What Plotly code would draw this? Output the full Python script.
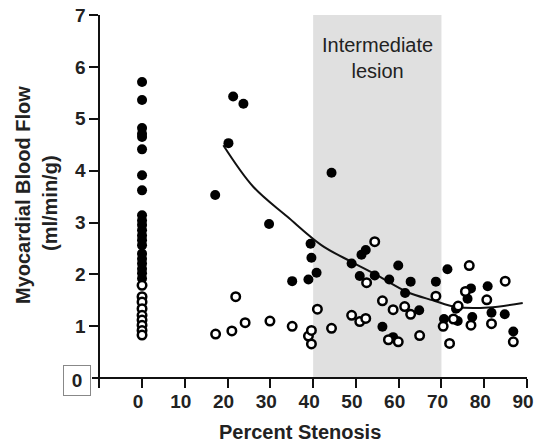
import plotly.graph_objects as go

# Myocardial blood flow vs. percent stenosis
# filled markers: one group, open markers: other group
filled_x = [0] * 21 + [
    17.1, 20.2, 21.3, 23.7, 29.7, 35.1, 38.9, 39.4, 39.6, 40.8, 44.3, 49.0,
    50.9, 51.3, 52.3, 54.4, 56.2, 57.8, 58.7, 59.9, 61.5, 62.8, 64.8, 68.7,
    70.6, 71.4, 73.4, 73.8, 76.1, 76.9, 77.2, 80.8, 81.7, 84.8, 86.8]
filled_y = [
    5.71, 5.36, 4.82, 4.71, 4.65, 4.41, 3.91, 3.62, 3.14, 3.04, 2.95, 2.85,
    2.75, 2.66, 2.56, 2.40, 2.30, 2.21, 2.11, 2.02, 1.92] + [
    3.53, 4.53, 5.43, 5.29, 2.97, 1.87, 1.90, 2.59, 2.32, 2.03, 3.96, 2.21,
    1.97, 2.38, 2.47, 1.98, 0.99, 1.90, 0.79, 2.17, 1.64, 1.86, 1.31, 1.86,
    1.14, 2.10, 1.34, 1.10, 1.53, 1.73, 1.18, 1.77, 1.26, 1.23, 0.90]

open_x = [0] * 9 + [
    17.2, 21.0, 21.9, 24.1, 29.9, 35.1, 38.9, 39.6, 39.6, 41.0, 44.3, 49.0,
    50.9, 52.3, 52.5, 54.4, 56.2, 57.6, 58.7, 59.9, 61.4, 62.8, 64.9, 68.7,
    70.4, 71.9, 72.8, 73.9, 75.6, 76.5, 76.9, 80.6, 81.7, 84.9, 86.8]
open_y = [1.79, 1.57, 1.47, 1.34, 1.21, 1.12, 1.02, 0.92, 0.83] + [
    0.85, 0.91, 1.57, 1.07, 1.10, 1.00, 0.81, 0.92, 0.66, 1.33, 0.96, 1.21,
    1.09, 1.15, 1.84, 2.63, 1.49, 0.74, 1.32, 0.70, 1.38, 1.23, 0.82, 1.58,
    1.00, 0.67, 1.14, 1.39, 1.67, 2.17, 1.02, 1.51, 1.05, 1.87, 0.70]

# fitted trend line
fit_x = [19, 26, 34, 42, 49, 55, 62, 68, 73.5, 81, 89]
fit_y = [4.49, 3.69, 3.11, 2.56, 2.24, 1.98, 1.66, 1.50, 1.37, 1.36, 1.45]

x_ticks = [0, 10, 20, 30, 40, 50, 60, 70, 80, 90]
y_ticks = [1, 2, 3, 4, 5, 6, 7]
lesion_band = [40, 70]

FONT = "Arial, Liberation Sans, Helvetica, sans-serif"
X_MIN, X_MAX = -11.7, 90
Y_MIN, Y_MAX = -0.19, 7
Y_AXIS_AT = -10

# plot-area geometry in pixels
L, R, T, B = 92, 10, 15, 54
W, H = 537, 442
PW, PH = W - L - R, H - T - B


def px_to_paper(px, py):
    return (px - L) / PW, (H - B - py) / PH


fig = go.Figure()

fig.add_shape(type="rect", xref="x", yref="y",
              x0=lesion_band[0], x1=lesion_band[1], y0=0, y1=Y_MAX,
              fillcolor="#e0e0e0", line=dict(width=0), layer="below")

fig.add_trace(go.Scatter(
    x=fit_x, y=fit_y, mode="lines", line=dict(color="#111", width=2, shape="spline"),
    hoverinfo="skip", showlegend=False))

fig.add_trace(go.Scatter(
    x=filled_x, y=filled_y, mode="markers", showlegend=False, cliponaxis=False,
    marker=dict(size=10, color="#000", line=dict(width=0))))

fig.add_trace(go.Scatter(
    x=open_x, y=open_y, mode="markers", showlegend=False, cliponaxis=False,
    marker=dict(size=8.5, color="#fff", line=dict(width=2.5, color="#000"))))

fig.add_annotation(x=sum(lesion_band) / 2, y=6.17, xref="x", yref="y",
                   xanchor="center", yanchor="middle",
                   text="Intermediate<br>lesion", showarrow=False,
                   font=dict(family=FONT, size=20, color="#222"))

# axis titles
ax, ay = px_to_paper(300, 432)
fig.add_annotation(x=ax, y=ay, xref="paper", yref="paper", xanchor="center", yanchor="middle",
                   text="<b>Percent Stenosis</b>", showarrow=False,
                   font=dict(family=FONT, size=20, color="#222"))
ax, ay = px_to_paper(23, 195)
fig.add_annotation(x=ax, y=ay, xref="paper", yref="paper", xanchor="center", yanchor="middle",
                   text="<b>Myocardial Blood Flow</b>", showarrow=False, textangle=-90,
                   font=dict(family=FONT, size=20, color="#222"))
ax, ay = px_to_paper(50, 203)
fig.add_annotation(x=ax, y=ay, xref="paper", yref="paper", xanchor="center", yanchor="middle",
                   text="<b>(ml/min/g)</b>", showarrow=False, textangle=-90,
                   font=dict(family=FONT, size=20, color="#222"))

# boxed zero label on the value axis
ax, ay = px_to_paper(77, 380)
fig.add_annotation(x=ax, y=ay, xref="paper", yref="paper", xanchor="center", yanchor="middle",
                   text="<b>0</b>", showarrow=False, width=24, height=27,
                   bordercolor="#888", borderwidth=1, borderpad=1, bgcolor="#fff",
                   font=dict(family=FONT, size=19, color="#222"))

axis_common = dict(showgrid=False, zeroline=False, showline=True, linecolor="#111",
                   linewidth=2, ticks="outside", ticklen=9, tickwidth=2, tickcolor="#111",
                   automargin=False,
                   tickfont=dict(family=FONT, size=19, color="#222"))

fig.update_xaxes(range=[X_MIN, X_MAX], tickvals=x_ticks, ticktext=[f"<b>{v}</b>" for v in x_ticks],
                 anchor="free", position=(0 - Y_MIN) / (Y_MAX - Y_MIN),
                 ticklabeloverflow="allow", ticklabelshift=-4, ticklabelstandoff=-3,
                 **axis_common)
fig.update_yaxes(range=[Y_MIN, Y_MAX], tickvals=y_ticks, ticktext=[f"<b>{v}</b>" for v in y_ticks],
                 anchor="free", position=(Y_AXIS_AT - X_MIN) / (X_MAX - X_MIN),
                 **axis_common)

fig.update_layout(
    width=W, height=H,
    margin=dict(l=L, r=R, t=T, b=B, autoexpand=False),
    paper_bgcolor="#fff", plot_bgcolor="#fff",
    font=dict(family=FONT),
)

fig.write_html("out.html")
